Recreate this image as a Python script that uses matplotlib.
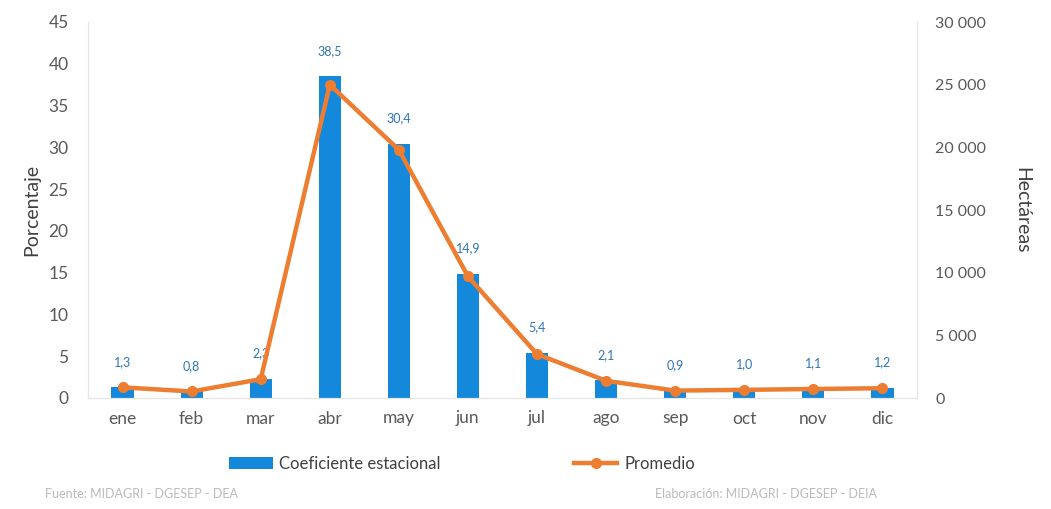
import matplotlib
matplotlib.use("Agg")
import matplotlib.pyplot as plt
from matplotlib.ticker import FuncFormatter

plt.rcParams['font.family'] = ['Lato', 'DejaVu Sans']

months = ["ene", "feb", "mar", "abr", "may", "jun", "jul", "ago", "sep", "oct", "nov", "dic"]
coef = [1.3, 0.8, 2.3, 38.5, 30.4, 14.9, 5.4, 2.1, 0.9, 1.0, 1.1, 1.2]
promedio = [850, 520, 1500, 25000, 19800, 9700, 3500, 1370, 590, 650, 720, 780]
coef_labels = ["1,3", "0,8", "2,3", "38,5", "30,4", "14,9", "5,4", "2,1", "0,9", "1,0", "1,1", "1,2"]

bar_color = "#1488DB"
line_color = "#ED7D31"
tick_color = "#595959"

fig = plt.figure(figsize=(10.51, 5.09), dpi=100)
ax = fig.add_axes([88/1051, 1 - 398/509, (917-88)/1051, (398-22)/509])
x = list(range(len(months)))
ax.bar(x, coef, width=0.32, color=bar_color, zorder=2, label="Coeficiente estacional")
ax.set_ylim(0, 45)
ax.set_xlim(-0.5, 11.5)
ax.set_yticks(range(0, 46, 5))
ax.set_xticks(x)
ax.set_xticklabels(months)
ax.tick_params(axis='both', length=0, colors=tick_color, labelsize=12.5)
ax.tick_params(axis='y', pad=14)
ax.tick_params(axis='x', pad=9)
ax.set_ylabel("Porcentaje", fontsize=14, color="#404040", labelpad=6)

for xi, v, lab in zip(x, coef, coef_labels):
    ax.annotate(lab, (xi, v), xytext=(0, 14), textcoords='offset points',
                ha='center', va='bottom', fontsize=9, color="#2E75B6", zorder=5)

ax2 = ax.twinx()
ax2.plot(x, promedio, color=line_color, lw=3.2, marker='o', ms=7, zorder=3, label="Promedio")
ax2.set_ylim(0, 30000)
ax2.set_yticks(range(0, 30001, 5000))
ax2.yaxis.set_major_formatter(FuncFormatter(lambda v, p: f"{int(v):,}".replace(",", " ")))
ax2.tick_params(axis='y', length=0, colors=tick_color, labelsize=11.5, pad=13)
ax2.set_ylabel("Hectáreas", fontsize=14, color="#404040", rotation=270, labelpad=32)

for a in (ax, ax2):
    a.spines['top'].set_visible(False)
    a.spines['bottom'].set_color("#E6E6E6")
    a.spines['left'].set_color("#E6E6E6")
    a.spines['right'].set_color("#E6E6E6")

h1, l1 = ax.get_legend_handles_labels()
h2, l2 = ax2.get_legend_handles_labels()
fig.legend(h1 + h2, l1 + l2, loc='center', bbox_to_anchor=(462/1051, 1 - 464/509),
           ncol=2, frameon=False, fontsize=12, columnspacing=8, handlelength=2.6,
           handletextpad=0.4, labelcolor="#404040")

fig.text(45/1051, 1 - 494/509, "Fuente: MIDAGRI - DGESEP - DEA", fontsize=9, color="#BBBBBB", va='center')
fig.text(655/1051, 1 - 494/509, "Elaboración: MIDAGRI - DGESEP - DEIA", fontsize=9, color="#BBBBBB", va='center')

fig.savefig("out.png", dpi=100, facecolor="white")
